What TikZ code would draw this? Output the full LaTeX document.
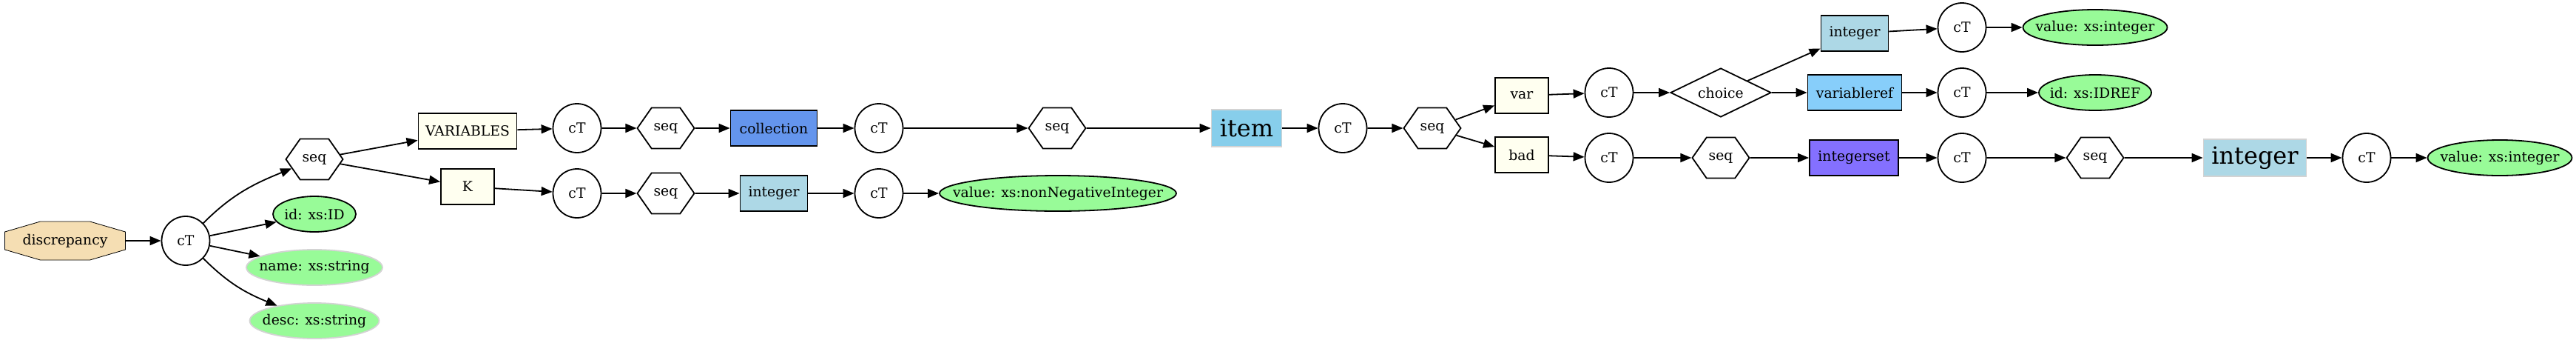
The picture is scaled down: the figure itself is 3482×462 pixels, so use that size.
\documentclass[tikz,border=0pt]{standalone}
\usepackage{fontspec}
\setmainfont{DejaVu Serif}
\usepackage{tikz}
\usetikzlibrary{arrows.meta,shapes.geometric,shapes.symbols,calc,backgrounds}
\definecolor{wheat}{HTML}{F5DEB3}
\definecolor{palegreen}{HTML}{98FB98}
\definecolor{ivory}{HTML}{FFFFF0}
\definecolor{cornflower}{HTML}{6495ED}
\definecolor{lightblue}{HTML}{ADD8E6}
\definecolor{skyblue}{HTML}{87CEEB}
\definecolor{lightskyblue}{HTML}{87CEFA}
\definecolor{slateblue}{HTML}{8470FF}
\definecolor{softgray}{HTML}{D3D3D3}
\newcommand{\gvlabel}[1]{\makebox[0pt]{#1}}

\begin{document}
\begin{tikzpicture}[x=0.5pt,y=0.5pt,font=\fontsize{9.4}{11}\selectfont,line width=0.9pt,
  edge/.style={-{Triangle[length=7.5pt,width=6pt]},line width=0.9pt},
  ctnode/.style={ellipse,draw,minimum width=32.5pt,minimum height=33pt,inner sep=0pt},
  seqnode/.style={signal,signal to=west and east,signal pointer angle=110,draw,
    minimum width=38.5pt,minimum height=27.5pt,inner sep=0pt},
  attr/.style={ellipse,draw,fill=palegreen,minimum height=24pt,inner sep=0pt},
  attrsoft/.style={attr,draw=softgray},
  elem/.style={rectangle,draw,minimum height=24pt},
  bigelem/.style={rectangle,draw=softgray,minimum height=25pt,font=\fontsize{16}{19}\selectfont},
  choicenode/.style={diamond,draw,minimum width=68pt,minimum height=33pt,inner sep=0pt}]
\useasboundingbox (0,0) rectangle (3482,-462);
\node[minimum width=81.5pt,minimum height=26pt,inner sep=0pt,outer sep=0pt] (disc) at (88,-325) {discrepancy};
\begin{scope}[on background layer]
\draw[fill=wheat] ($(disc.north west)+(48,0)$) -- ($(disc.north east)+(-48,0)$) -- ($(disc.north east)+(0,-14)$)
  -- ($(disc.south east)+(0,14)$) -- ($(disc.south east)+(-48,0)$) -- ($(disc.south west)+(48,0)$)
  -- ($(disc.south west)+(0,14)$) -- ($(disc.north west)+(0,-14)$) -- cycle;
\end{scope}
\node[ctnode] (ct1) at (251,-325) {cT};
\node[seqnode] (seqa) at (425,-215) {seq};
\node[attr,minimum width=56pt] (attrid) at (425,-289) {\gvlabel{id: xs:ID}};
\node[attrsoft,minimum width=92pt] (attrname) at (425,-361) {\gvlabel{name: xs:string}};
\node[attrsoft,minimum width=87.5pt] (attrdesc) at (425,-433) {\gvlabel{desc: xs:string}};
\node[elem,fill=ivory,minimum width=66.5pt] (vars) at (632,-177) {VARIABLES};
\node[elem,fill=ivory,minimum width=36pt] (kbox) at (632,-252) {K};
\node[ctnode] (ct2) at (780,-173) {cT};
\node[ctnode] (ct3) at (780,-261) {cT};
\node[seqnode] (seqb) at (900,-173) {seq};
\node[seqnode] (seqc) at (900,-261) {seq};
\node[elem,fill=cornflower,minimum width=58.5pt] (coll) at (1046,-173) {collection};
\node[elem,fill=lightblue,minimum width=45.5pt] (intk) at (1046,-261) {integer};
\node[ctnode] (ct4) at (1188,-173) {cT};
\node[ctnode] (ct5) at (1188,-261) {cT};
\node[seqnode] (seqd) at (1429,-173) {seq};
\node[attr,minimum width=160pt] (valnn) at (1430,-261) {\gvlabel{value: xs:nonNegativeInteger}};
\node[bigelem,fill=skyblue,minimum width=47.5pt] (item) at (1685,-173) {item};
\node[ctnode] (ct6) at (1815,-173) {cT};
\node[seqnode] (seqe) at (1936,-173) {seq};
\node[elem,fill=ivory,minimum width=36pt] (var) at (2057,-129) {var};
\node[elem,fill=ivory,minimum width=36pt] (bad) at (2057,-209) {bad};
\node[ctnode] (ct7) at (2175,-125) {cT};
\node[ctnode] (ct8) at (2175,-213) {cT};
\node[choicenode] (choice) at (2326,-125) {\gvlabel{choice}};
\node[seqnode] (seqf) at (2326,-213) {seq};
\node[elem,fill=lightblue,minimum width=45.5pt] (intv) at (2507,-45) {integer};
\node[elem,fill=lightskyblue,minimum width=63.5pt] (vref) at (2507,-125) {variableref};
\node[elem,fill=slateblue,minimum width=60pt] (iset) at (2506,-213) {integerset};
\node[ctnode] (ct9) at (2652,-37) {cT};
\node[ctnode] (ct10) at (2652,-125) {cT};
\node[ctnode] (ct11) at (2652,-213) {cT};
\node[attr,minimum width=97.5pt] (valint) at (2832,-37) {\gvlabel{value: xs:integer}};
\node[attr,minimum width=76pt] (idref) at (2832,-125) {\gvlabel{id: xs:IDREF}};
\node[seqnode] (seqg) at (2832,-213) {seq};
\node[bigelem,fill=lightblue,minimum width=69.5pt] (bigint) at (3048,-213) {integer};
\node[ctnode] (ct12) at (3199,-213) {cT};
\node[attr,minimum width=97.5pt] (valint2) at (3379,-213) {\gvlabel{value: xs:integer}};
\draw[edge] (disc) -- (ct1);
\draw[edge] (ct1) to[out=45,in=202] (seqa);
\draw[edge] (ct1) -- (attrid);
\draw[edge] (ct1) -- (attrname);
\draw[edge] (ct1) to[out=-45,in=158] (attrdesc);
\draw[edge] (seqa) -- (vars);
\draw[edge] (seqa) -- (kbox);
\draw[edge] (vars) -- (ct2);
\draw[edge] (kbox) -- (ct3);
\draw[edge] (ct2) -- (seqb);
\draw[edge] (ct3) -- (seqc);
\draw[edge] (seqb) -- (coll);
\draw[edge] (seqc) -- (intk);
\draw[edge] (coll) -- (ct4);
\draw[edge] (intk) -- (ct5);
\draw[edge] (ct4) -- (seqd);
\draw[edge] (ct5) -- (valnn);
\draw[edge] (seqd) -- (item);
\draw[edge] (item) -- (ct6);
\draw[edge] (ct6) -- (seqe);
\draw[edge] (seqe) -- (var);
\draw[edge] (seqe) -- (bad);
\draw[edge] (var) -- (ct7);
\draw[edge] (bad) -- (ct8);
\draw[edge] (ct7) -- (choice);
\draw[edge] (ct8) -- (seqf);
\draw[edge] (choice) -- (intv);
\draw[edge] (choice) -- (vref);
\draw[edge] (seqf) -- (iset);
\draw[edge] (intv) -- (ct9);
\draw[edge] (vref) -- (ct10);
\draw[edge] (iset) -- (ct11);
\draw[edge] (ct9) -- (valint);
\draw[edge] (ct10) -- (idref);
\draw[edge] (ct11) -- (seqg);
\draw[edge] (seqg) -- (bigint);
\draw[edge] (bigint) -- (ct12);
\draw[edge] (ct12) -- (valint2);
\end{tikzpicture}
\end{document}
